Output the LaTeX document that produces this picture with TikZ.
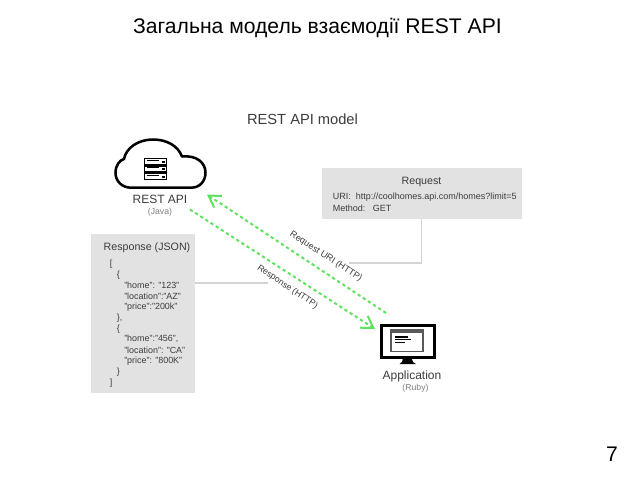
\documentclass[tikz,border=0pt]{standalone}
\usepackage{fontspec}
\setmainfont{Liberation Sans}
\usetikzlibrary{arrows.meta}
\definecolor{panel}{HTML}{E2E2E2}
\definecolor{link}{HTML}{5FE35F}
\definecolor{inktext}{HTML}{3C3C3C}
\definecolor{leader}{HTML}{D4D4D4}
\tikzset{
  x=0.75pt,y=-0.75pt,
  lbl/.style={inner sep=0pt,text=inktext,font=\fontsize{#1}{#1}\selectfont},
  lbl/.default=7,
  code/.style={inner sep=0pt,anchor=west,text=inktext,font=\fontsize{6.7}{6.7}\selectfont},
  panelbox/.style={fill=panel,draw=none,inner sep=0pt},
  leaderline/.style={draw=leader,line width=0.8pt},
  httplink/.style={draw=link,line width=1.5pt,dash pattern=on 2.4pt off 2.2pt,
    -{Straight Barb[length=8.5pt,width=10.5pt,line width=1.5pt,color=link]}},
}
\begin{document}
\begin{tikzpicture}
\useasboundingbox (0,0) rectangle (640,480);
\fill[white] (0,0) rectangle (640,480);

% headings
\node[inner sep=0pt,text=black,font=\fontsize{15.85}{15.85}\selectfont] (title) at (317.5,27.5) {Загальна модель взаємодії REST API};
\node[lbl=11] (model) at (302.5,119) {REST API model};
\node[inner sep=0pt,text=black,font=\fontsize{15.85}{15.85}\selectfont] (pageno) at (612,454) {7};

% panels
\node[panelbox,minimum width=200pt*0.75,minimum height=51pt*0.75] (request) at (421.5,193.5) {};
\node[panelbox,minimum width=104pt*0.75,minimum height=159pt*0.75] (response) at (143,313.5) {};

% request panel text
\node[lbl=8] (reqhead) at (421.5,182) {Request};
\node[lbl=6.75,anchor=west] (requri) at (332.5,197.5) {URI:\ \ http://coolhomes.api.com/homes?limit=5};
\node[lbl=6.75,anchor=west] (reqmethod) at (332.5,208.5) {Method:\ \ \ GET};

% response panel text
\node[lbl=8] (resphead) at (147,248) {Response (JSON)};
\node[code] (j1) at (109.5,264) {[};
\node[code] (j2) at (116.5,275.5) {\{};
\node[code] (j3) at (124,285) {"home": "123"};
\node[code] (j4) at (124,296) {"location":"AZ"};
\node[code] (j5) at (124,307) {"price":"200k"};
\node[code] (j6) at (116.5,318) {\},};
\node[code] (j7) at (116.5,329) {\{};
\node[code] (j8) at (124,339) {"home":"456",};
\node[code] (j9) at (124,350) {"location": "CA"};
\node[code] (j10) at (124,361) {"price": "800K"};
\node[code] (j11) at (116.5,372) {\}};
\node[code] (j12) at (109.5,383) {]};

% cloud with server rack
\draw[black,line width=1.9pt,fill=white,line join=round]
  (131,187.7) -- (191,187.7)
  .. controls (200,187.7) and (205.5,181) .. (205.5,172.5)
  .. controls (205.5,163) and (197,155) .. (182,156.5)
  .. controls (178,146) and (167,139.5) .. (153,139.5)
  .. controls (138,139.5) and (126,148) .. (124,159)
  .. controls (120,160) and (115.5,165) .. (115.5,173)
  .. controls (115.5,181) and (122,187.7) .. (131,187.7) -- cycle;
\foreach \ytop in {158.5,166,173.5}{
  \draw[black,line width=1.1pt] (144.5,\ytop) rectangle (166.5,\ytop+6);
  \fill[black] (161.5,\ytop+2) rectangle (165,\ytop+4);
  \draw[black,line width=0.6pt] (146.5,\ytop+1.6) -- (159,\ytop+1.6);
}
\node[lbl=9] (api) at (160,199.5) {REST API};
\node[lbl=6.5,text=gray] (java) at (160,212.5) {(Java)};

% desktop monitor with application window
\draw[black,line width=1.6pt,fill=white] (381.5,325.5) rectangle (434.5,357.5);
\fill[black] (403,358) -- (411.5,358) -- (413,362) -- (416,364) -- (399.5,364) -- (402,362) -- cycle;
\draw[gray!70!black,line width=0.9pt] (391,329.5) rectangle (423,351.5);
\fill[gray!70!black] (391,329.5) rectangle (423,333);
\fill[black] (394.5,336) rectangle (408,337.5);
\fill[black] (394.5,338.8) rectangle (411,340.3);
\fill[black] (394.5,341.6) rectangle (405,343.1);
\node[lbl=9] (app) at (412,376) {Application};
\node[lbl=6.5,text=gray] (ruby) at (415.5,388) {(Ruby)};

% leader lines from the panels towards the links
\coordinate (reqbend) at (349,263);
\coordinate (respend) at (268,283);
\draw[leaderline] (request.south) |- (reqbend);
\draw[leaderline] (response.east |- respend) -- (respend);

% HTTP links
\coordinate (reqstart) at (386,313);
\coordinate (reqtip) at (207,194.5);
\coordinate (respstart) at (190,209.5);
\coordinate (resptip) at (375,329);
\draw[httplink] (reqstart) -- (reqtip);
\draw[httplink] (respstart) -- (resptip);

% link captions
\node[lbl=6.8,rotate=-33] (reqlabel) at (326,256.5) {Request URI (HTTP)};
\node[lbl=6.6,rotate=-34] (resplabel) at (287.5,287) {Response (HTTP)};
\end{tikzpicture}
\end{document}
